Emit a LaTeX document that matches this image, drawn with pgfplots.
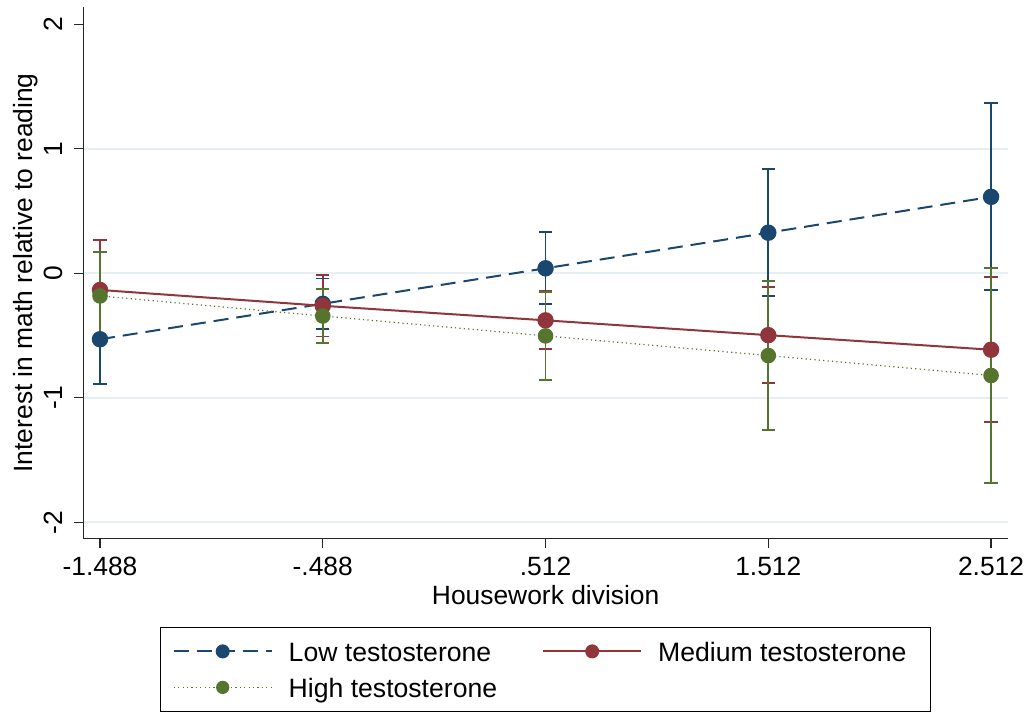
\documentclass[border=0pt]{standalone}
\usepackage{fontspec}
\setmainfont{Liberation Sans}
\usepackage{pgfplots}
\pgfplotsset{compat=1.18}
\usepackage{pgfplotstable}
\definecolor{snavy}{RGB}{26,71,111}
\definecolor{smaroon}{RGB}{144,53,59}
\definecolor{sgreen}{RGB}{85,117,47}
\definecolor{sgrid}{RGB}{232,239,242}

\pgfplotstableread{
x y lo hi
-1.488 -0.530 -0.892 -0.168
-0.488 -0.245 -0.450 -0.043
0.512 0.040 -0.249 0.332
1.512 0.326 -0.182 0.835
2.512 0.614 -0.137 1.365
}\lowT
\pgfplotstableread{
x y lo hi
-1.488 -0.134 -0.535 0.267
-0.488 -0.261 -0.509 -0.014
0.512 -0.378 -0.610 -0.142
1.512 -0.497 -0.881 -0.112
2.512 -0.614 -1.197 -0.032
}\medT
\pgfplotstableread{
x y lo hi
-1.488 -0.182 -0.533 0.169
-0.488 -0.343 -0.562 -0.124
0.512 -0.503 -0.857 -0.150
1.512 -0.661 -1.259 -0.062
2.512 -0.821 -1.687 0.043
}\highT

\begin{document}
\begin{tikzpicture}
\useasboundingbox (0,0) rectangle (514.5pt,356pt);
\begin{axis}[
  at={(41.65pt,86.65pt)}, anchor=south west,
  scale only axis, width=462.35pt, height=265.85pt,
  xmin=-1.563, xmax=2.588, ymin=-2.132, ymax=2.139,
  axis x line*=bottom, axis y line*=left,
  axis line style={line width=0.7pt, color=black!85, -},
  xtick={-1.488,-0.488,0.512,1.512,2.512},
  xticklabels={-1.488,-.488,.512,1.512,2.512},
  ytick={-2,-1,0,1}, yticklabels={-2,-1,0,1},
  extra y ticks={2}, extra y tick labels={2},
  extra tick style={grid=none},
  ymajorgrids, major grid style={color=sgrid, line width=1pt},
  tick style={color=black!85, line width=0.7pt},
  major tick length=4.5pt, tick align=outside,
  /pgf/number format/assume math mode=true,
  ticklabel style={font=\fontsize{13.2pt}{15pt}\selectfont},
  xticklabel style={anchor=base},
  xticklabel shift=14pt,
  yticklabel style={rotate=90, anchor=base},
  yticklabel shift=6pt,
  label style={font=\fontsize{13.2pt}{15pt}\selectfont},
  xlabel={Housework division},
  xlabel style={at={(axis description cs:0.5,-0.1247)}, anchor=base},
  ylabel={Interest in math relative to reading},
  ylabel style={at={(axis description cs:-0.05461,0.5)}, anchor=base, rotate=0},
  legend style={at={(axis description cs:0.5,0)}, anchor=north, yshift=-44.15pt,
    draw=black, line width=0.6pt, inner xsep=6pt, inner ysep=6pt,
    legend columns=2, font=\fontsize{13.3pt}{15pt}\selectfont,
    nodes={inner sep=0pt, text height=11pt, text depth=0.8pt},
    row sep=6.2pt,
    /tikz/every odd column/.append style={column sep=8pt},
    /tikz/every even column/.append style={column sep=22.5pt}},
  legend cell align=left,
  legend image code/.code={\draw[mark repeat=2,mark phase=2,mark size=3pt] plot coordinates {(0pt,0pt)(24.5pt,0pt)(49pt,0pt)};},
]
% confidence intervals
\addplot[forget plot, snavy, line width=0.85pt, only marks, mark=none,
  error bars/.cd, y dir=both, y explicit,
  error bar style={line width=0.85pt, snavy},
  error mark options={snavy, rotate=90, mark size=3.3pt, line width=0.85pt}]
  table[x=x, y=y, y error plus expr=\thisrow{hi}-\thisrow{y}, y error minus expr=\thisrow{y}-\thisrow{lo}] {\lowT};
\addplot[forget plot, smaroon, line width=0.85pt, only marks, mark=none,
  error bars/.cd, y dir=both, y explicit,
  error bar style={line width=0.85pt, smaroon},
  error mark options={smaroon, rotate=90, mark size=3.3pt, line width=0.85pt}]
  table[x=x, y=y, y error plus expr=\thisrow{hi}-\thisrow{y}, y error minus expr=\thisrow{y}-\thisrow{lo}] {\medT};
\addplot[forget plot, sgreen, line width=0.85pt, only marks, mark=none,
  error bars/.cd, y dir=both, y explicit,
  error bar style={line width=0.85pt, sgreen},
  error mark options={sgreen, rotate=90, mark size=3.3pt, line width=0.85pt}]
  table[x=x, y=y, y error plus expr=\thisrow{hi}-\thisrow{y}, y error minus expr=\thisrow{y}-\thisrow{lo}] {\highT};
% lines with markers
\addplot[snavy, line width=1pt, dash pattern=on 7.5pt off 4pt, mark=*, mark size=3.6pt,
  mark options={solid, fill=snavy, draw=snavy}] table[x=x, y=y] {\lowT};
\addlegendentry{Low testosterone}
\addplot[smaroon, line width=1pt, mark=*, mark size=3.6pt,
  mark options={solid, fill=smaroon, draw=smaroon}] table[x=x, y=y] {\medT};
\addlegendentry{Medium testosterone\kern6pt}
\addplot[sgreen, line width=0.6pt, dash pattern=on 0.6pt off 1.6pt, mark=*, mark size=3.6pt,
  mark options={solid, fill=sgreen, draw=sgreen}] table[x=x, y=y] {\highT};
\addlegendentry{High testosterone}
\end{axis}
\end{tikzpicture}
\end{document}
